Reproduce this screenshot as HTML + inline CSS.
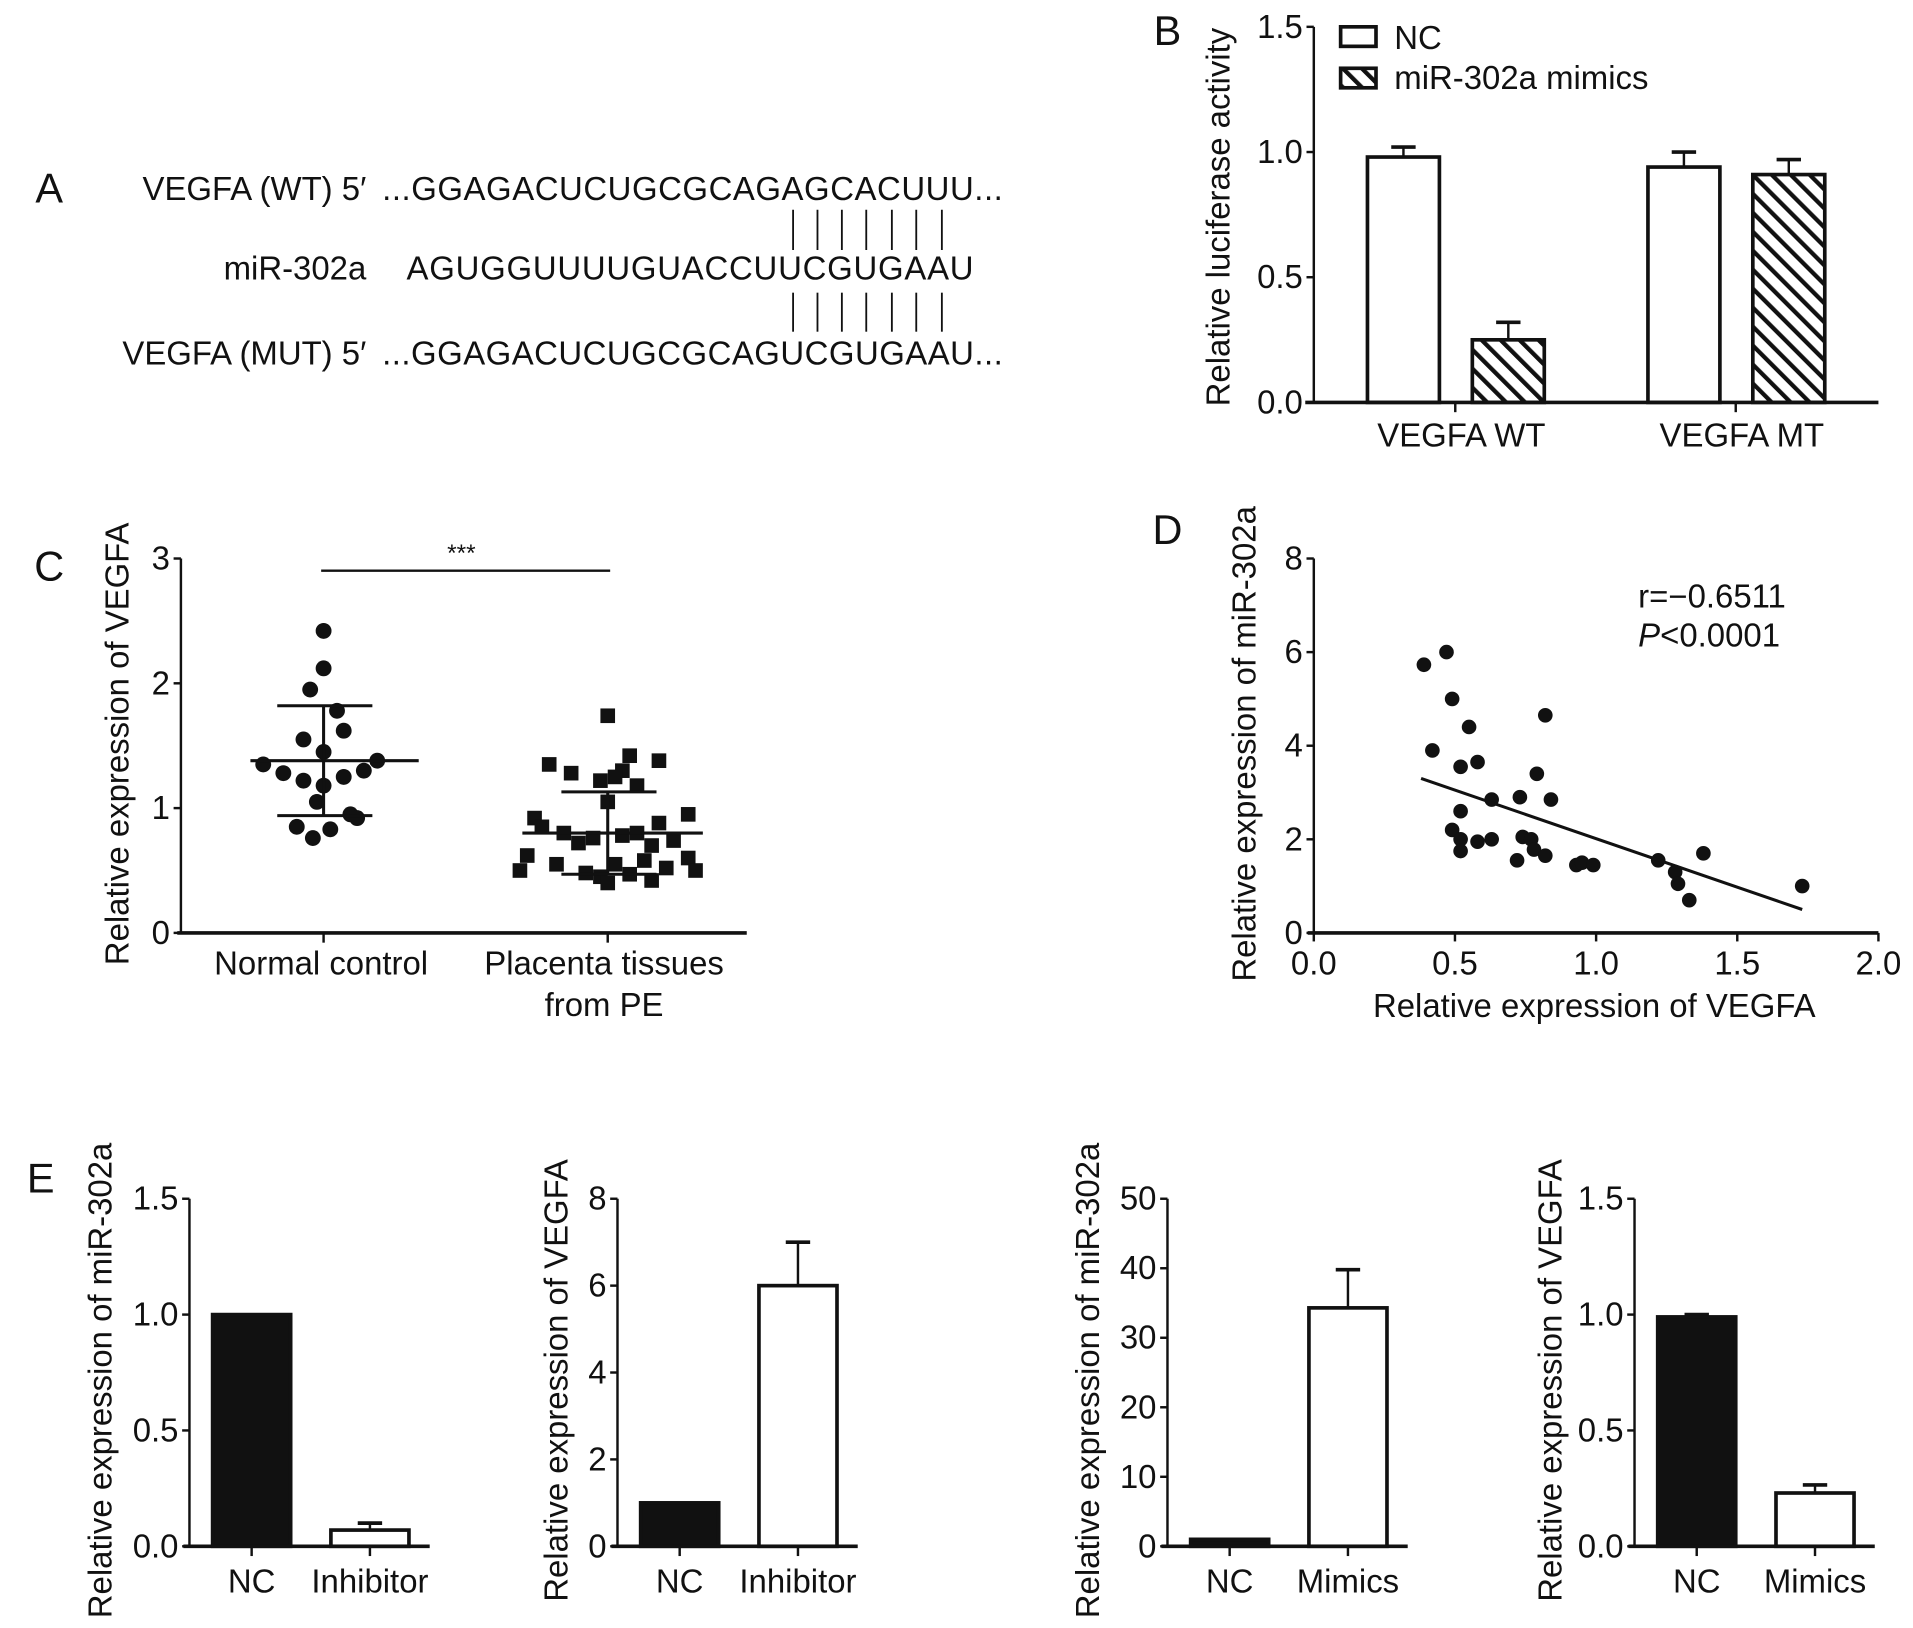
<!DOCTYPE html>
<html><head><meta charset="utf-8"><style>
html,body{margin:0;padding:0;background:#fff}
svg{display:block}
text{font-family:"Liberation Sans",sans-serif;fill:#111}
</style></head><body>
<svg id="fig" width="1913" height="1628" viewBox="0 0 1568 1335" xmlns="http://www.w3.org/2000/svg">
<defs>
<pattern id="hatch" patternUnits="userSpaceOnUse" width="11" height="11" patternTransform="rotate(-45)">
<rect width="11" height="11" fill="#fff"/><rect width="3.5" height="11" fill="#111"/></pattern>
</defs>
<g font-size="27">
<text x="40" y="166" font-size="34" text-anchor="middle">A</text>
<text x="300" y="164" text-anchor="end">VEGFA (WT) 5′</text>
<text x="313" y="164" textLength="509">...GGAGACUCUGCGCAGAGCACUUU...</text>
<text x="300" y="229" text-anchor="end">miR-302a</text>
<text x="333" y="229" textLength="465">AGUGGUUUUGUACCUUCGUGAAU</text>
<text x="300" y="299" text-anchor="end">VEGFA (MUT) 5′</text>
<text x="313" y="299" textLength="509">...GGAGACUCUGCGCAGUCGUGAAU...</text>
<g id="pairs" stroke="#111" stroke-width="1.5"></g>
</g>
<g id="pb"></g>
<g id="pc"></g>
<g id="pd"></g>
<g id="pe"></g>
</svg>
<script>
// Panel B data
const bCategories = ["VEGFA WT", "VEGFA MT"];
const bNC = [0.98, 0.94];
const bNCErr = [0.04, 0.06];
const bMimics = [0.25, 0.91];
const bMimicsErr = [0.07, 0.06];
const bTicks = ["0.0", "0.5", "1.0", "1.5"];
// Panel C data
const cNormal = [2.42, 2.12, 1.95, 1.78, 1.62, 1.55, 1.45, 1.38, 1.35, 1.30, 1.28, 1.25, 1.22, 1.18, 1.05, 0.95, 0.92, 0.85, 0.83, 0.76];
const cNormalJitter = [0, 0, -0.1, 0.1, 0.15, -0.15, 0, 0.4, -0.45, 0.3, -0.3, 0.15, -0.15, 0, -0.05, 0.2, 0.25, -0.2, 0.05, -0.08];
const cPE = [1.74, 1.42, 1.38, 1.35, 1.30, 1.28, 1.25, 1.22, 1.18, 1.05, 0.95, 0.92, 0.88, 0.85, 0.80, 0.80, 0.78, 0.76, 0.74, 0.72, 0.70, 0.62, 0.60, 0.58, 0.55, 0.55, 0.52, 0.50, 0.50, 0.48, 0.47, 0.45, 0.42, 0.40];
const cPEJitter = [0, 0.15, 0.35, -0.4, 0.1, -0.25, 0.05, -0.05, 0.2, 0, 0.55, -0.5, 0.35, -0.45, 0.2, -0.3, 0.1, -0.1, 0.45, -0.2, 0.3, -0.55, 0.55, 0.25, -0.35, 0.05, 0.4, -0.6, 0.6, -0.15, 0.15, -0.05, 0.3, 0];
const cMeans = [1.38, 0.80];
const cSD = [0.44, 0.33];
const cCategories = ["Normal control", "Placenta tissues"];
// Panel D data
const dX = [0.39, 0.47, 0.49, 0.42, 0.55, 0.52, 0.58, 0.82, 0.79, 0.63, 0.73, 0.84, 0.52, 0.49, 0.52, 0.52, 0.58, 0.63, 0.74, 0.77, 0.78, 0.82, 0.72, 0.93, 0.95, 0.99, 1.22, 1.28, 1.29, 1.38, 1.33, 1.73];
const dY = [5.73, 6.0, 5.0, 3.9, 4.4, 3.55, 3.65, 4.65, 3.4, 2.85, 2.9, 2.85, 2.6, 2.2, 2.0, 1.75, 1.95, 2.0, 2.05, 2.0, 1.78, 1.65, 1.55, 1.45, 1.5, 1.45, 1.55, 1.3, 1.05, 1.7, 0.7, 1.0];
const dFitX = [0.38, 1.73];
const dFitY = [3.3, 0.5];
const dXTicks = ["0.0", "0.5", "1.0", "1.5", "2.0"];
const dYTicks = ["0", "2", "4", "6", "8"];
// Panel E data
const eCats1 = ["NC", "Inhibitor"], eVals1 = [1.0, 0.07], eErr1 = [0, 0.03];
const eCats2 = ["NC", "Inhibitor"], eVals2 = [1.0, 6.0], eErr2 = [0, 1.0];
const eCats3 = ["NC", "Mimics"], eVals3 = [1.0, 34.3], eErr3 = [0, 5.5];
const eCats4 = ["NC", "Mimics"], eVals4 = [0.99, 0.23], eErr4 = [0.01, 0.035];

const FS = 27;
const NS = "http://www.w3.org/2000/svg";
function mk(parent, tag, attrs, txt) {
  const e = document.createElementNS(NS, tag);
  for (const k in attrs) e.setAttribute(k, attrs[k]);
  if (txt !== undefined) e.textContent = txt;
  parent.appendChild(e);
  return e;
}
function lin(d0, d1, r0, r1) { return v => r0 + (v - d0) * (r1 - r0) / (d1 - d0); }

const pairs = document.getElementById('pairs');
[650, 670, 690, 710, 731, 751, 772].forEach(x => {
  let l = mk(pairs, 'line', {x1: x, x2: x, y1: 172, y2: 205});
  
  
  l = mk(pairs, 'line', {x1: x, x2: x, y1: 240, y2: 272});
  
  
});

function yAxis(g, x, y0, y1, ticks, scale, vals) {
  let a = mk(g, 'line', {x1: x, x2: x, y1: y0 + 1, y2: y1, stroke: '#111', 'stroke-width': 2});
  
  
  ticks.forEach((t, i) => {
    const y = scale(vals[i]);
    mk(g, 'line', {x1: x - 6, x2: x, y1: y, y2: y, stroke: '#111', 'stroke-width': 2});
    const tx = mk(g, 'text', {x: x - 9, y: y + 9, 'text-anchor': 'end', 'font-size': FS}, t);
    
    
  });
}
function yTitle(g, x, cy, txt) {
  const t = mk(g, 'text', {x: 0, y: 0, 'text-anchor': 'middle', 'font-size': FS, transform: `translate(${x},${cy}) rotate(-90)`}, txt);
  
  
}
function bar(g, x0, x1, y0, y, fill, err, name) {
  if (err) {
    mk(g, 'line', {x1: (x0 + x1) / 2, x2: (x0 + x1) / 2, y1: y, y2: err, stroke: '#111', 'stroke-width': 2});
    mk(g, 'line', {x1: (x0 + x1) / 2 - 10, x2: (x0 + x1) / 2 + 10, y1: err, y2: err, stroke: '#111', 'stroke-width': 3});
  }
  const r = mk(g, 'rect', {x: x0, y: y, width: x1 - x0, height: y0 - y, fill: fill, stroke: '#111', 'stroke-width': 3});
  
  
}

// Panel B
(function () {
  const g = document.getElementById('pb');
  const y = lin(0, 1.5, 330, 22);
  mk(g, 'text', {x: 957, y: 37, 'font-size': 34, 'text-anchor': 'middle'}, 'B');
  yAxis(g, 1077, 330, 22, bTicks, y, [0, 0.5, 1.0, 1.5]);
  yTitle(g, 1008, 178, 'Relative luciferase activity');
  const centers = [1193, 1423];
  bCategories.forEach((c, i) => {
    const cx = centers[i];
    bar(g, cx - 72, cx - 13, 330, y(bNC[i]), '#fff', y(bNC[i] + bNCErr[i]), 'bar-nc-' + i);
    bar(g, cx + 14, cx + 73, 330, y(bMimics[i]), 'url(#hatch)', y(bMimics[i] + bMimicsErr[i]), 'bar-mimics-' + i);
    mk(g, 'line', {x1: cx, x2: cx, y1: 330, y2: 338, stroke: '#111', 'stroke-width': 2});
    const t = mk(g, 'text', {x: cx + 5, y: 366, 'text-anchor': 'middle', 'font-size': FS}, c);
    
    
  });
  mk(g, 'line', {x1: 1070, x2: 1540, y1: 330, y2: 330, stroke: '#111', 'stroke-width': 3});
  let r = mk(g, 'rect', {x: 1099, y: 22, width: 29, height: 16, fill: '#fff', stroke: '#111', 'stroke-width': 3});
  
  
  let t = mk(g, 'text', {x: 1143, y: 40, 'font-size': FS}, 'NC');
  
  
  r = mk(g, 'rect', {x: 1099, y: 56, width: 29, height: 16, fill: 'url(#hatch)', stroke: '#111', 'stroke-width': 3});
  
  
  t = mk(g, 'text', {x: 1143, y: 73, 'font-size': FS}, 'miR-302a mimics');
  
  
})();

// Panel C
(function () {
  const g = document.getElementById('pc');
  const y = lin(0, 3, 765, 458);
  mk(g, 'text', {x: 40, y: 476, 'font-size': 34, 'text-anchor': 'middle'}, 'C');
  yAxis(g, 148, 765, 458, ["0", "1", "2", "3"], y, [0, 1, 2, 3]);
  yTitle(g, 105, 610, 'Relative expression of VEGFA');
  mk(g, 'line', {x1: 145, x2: 612, y1: 765, y2: 765, stroke: '#111', 'stroke-width': 3});
  const cx = [265, 498];
  cx.forEach(x => mk(g, 'line', {x1: x, x2: x, y1: 765, y2: 773, stroke: '#111', 'stroke-width': 2}));
  let t = mk(g, 'text', {x: 263, y: 799, 'text-anchor': 'middle', 'font-size': FS}, cCategories[0]);
  
  
  t = mk(g, 'text', {x: 495, y: 799, 'text-anchor': 'middle', 'font-size': FS}, cCategories[1]);
  
  
  mk(g, 'text', {x: 495, y: 833, 'text-anchor': 'middle', 'font-size': FS}, 'from PE');
  mk(g, 'line', {x1: 263, x2: 500, y1: 468, y2: 468, stroke: '#111', 'stroke-width': 2});
  t = mk(g, 'text', {x: 378, y: 460, 'text-anchor': 'middle', 'font-size': 20}, '***');
  
  
  cNormal.forEach((v, i) => {
    const c = mk(g, 'circle', {cx: cx[0] + cNormalJitter[i] * 110, cy: y(v), r: 6.5, fill: '#111'});
    
    
  });
  cPE.forEach((v, i) => {
    const r = mk(g, 'rect', {x: cx[1] + cPEJitter[i] * 120 - 6, y: y(v) - 6, width: 12, height: 12, fill: '#111'});
    
    
  });
  [0, 1].forEach(i => {
    const x = cx[i];
    const m = mk(g, 'line', {x1: x - 60 - 10 * i, x2: x + 78, y1: y(cMeans[i]), y2: y(cMeans[i]), stroke: '#111', 'stroke-width': 2.5});
    
    
    mk(g, 'line', {x1: x, x2: x, y1: y(cMeans[i] - cSD[i]), y2: y(cMeans[i] + cSD[i]), stroke: '#111', 'stroke-width': 2.5});
    [cMeans[i] - cSD[i], cMeans[i] + cSD[i]].forEach(v => mk(g, 'line', {x1: x - 38, x2: x + 40, y1: y(v), y2: y(v), stroke: '#111', 'stroke-width': 2.5}));
  });
})();

// Panel D
(function () {
  const g = document.getElementById('pd');
  const x = lin(0, 2, 1077, 1540), y = lin(0, 8, 765, 458);
  mk(g, 'text', {x: 957, y: 446, 'font-size': 34, 'text-anchor': 'middle'}, 'D');
  yAxis(g, 1077, 765, 458, dYTicks, y, [0, 2, 4, 6, 8]);
  yTitle(g, 1029, 610, 'Relative expression of miR-302a');
  mk(g, 'line', {x1: 1072, x2: 1540, y1: 765, y2: 765, stroke: '#111', 'stroke-width': 3});
  dXTicks.forEach((tk, i) => {
    const xv = x(i * 0.5);
    mk(g, 'line', {x1: xv, x2: xv, y1: 765, y2: 772, stroke: '#111', 'stroke-width': 2});
    const t = mk(g, 'text', {x: xv, y: 799, 'text-anchor': 'middle', 'font-size': FS}, tk);
    
    
  });
  let t = mk(g, 'text', {x: 1307, y: 834, 'text-anchor': 'middle', 'font-size': FS}, 'Relative expression of VEGFA');
  
  
  dX.forEach((v, i) => {
    const c = mk(g, 'circle', {cx: x(v), cy: y(dY[i]), r: 6, fill: '#111'});
    
    
  });
  const l = mk(g, 'line', {x1: x(dFitX[0]), y1: y(dFitY[0]), x2: x(dFitX[1]), y2: y(dFitY[1]), stroke: '#111', 'stroke-width': 2.5});
  
  
  t = mk(g, 'text', {x: 1343, y: 498, 'font-size': FS}, 'r=−0.6511');
  
  
  t = mk(g, 'text', {x: 1343, y: 530, 'font-size': FS});
  
  
  mk(t, 'tspan', {'font-style': 'italic'}, 'P');
  mk(t, 'tspan', {}, '<0.0001');
})();

// Panel E
(function () {
  const g = document.getElementById('pe');
  mk(g, 'text', {x: 33, y: 978, 'font-size': 34, 'text-anchor': 'middle'}, 'E');
  const subs = [
    {ax: 155, max: 1.5, ticks: ["0.0", "0.5", "1.0", "1.5"], tv: [0, 0.5, 1, 1.5], cats: eCats1, vals: eVals1, err: eErr1, title: 'Relative expression of miR-302a', tx: 91, end: 350},
    {ax: 506, max: 8, ticks: ["0", "2", "4", "6", "8"], tv: [0, 2, 4, 6, 8], cats: eCats2, vals: eVals2, err: eErr2, title: 'Relative expression of VEGFA', tx: 465, end: 705},
    {ax: 957, max: 50, ticks: ["0", "10", "20", "30", "40", "50"], tv: [0, 10, 20, 30, 40, 50], cats: eCats3, vals: eVals3, err: eErr3, title: 'Relative expression of miR-302a', tx: 901, end: 1158},
    {ax: 1340, max: 1.5, ticks: ["0.0", "0.5", "1.0", "1.5"], tv: [0, 0.5, 1, 1.5], cats: eCats4, vals: eVals4, err: eErr4, title: 'Relative expression of VEGFA', tx: 1280, end: 1540}
  ];
  subs.forEach((s, k) => {
    const sg = mk(g, 'g', {});
    
    
    const y = lin(0, s.max, 1268, 983);
    yAxis(sg, s.ax, 1268, 983, s.ticks, y, s.tv);
    yTitle(sg, s.tx, 1132, s.title);
    const centers = [s.ax + 51, s.ax + 148];
    s.cats.forEach((c, i) => {
      const cx = centers[i];
      bar(sg, cx - 32, cx + 32, 1268, y(s.vals[i]), i === 0 ? '#111' : '#fff', s.err[i] ? y(s.vals[i] + s.err[i]) : 0, 'bar-' + c.toLowerCase());
      mk(sg, 'line', {x1: cx, x2: cx, y1: 1268, y2: 1276, stroke: '#111', 'stroke-width': 2});
      const t = mk(sg, 'text', {x: cx, y: 1306, 'text-anchor': 'middle', 'font-size': FS}, c);
      
      
    });
    mk(sg, 'line', {x1: s.ax - 5, x2: s.ax + 197, y1: 1268, y2: 1268, stroke: '#111', 'stroke-width': 3});
  });
})();
</script>
</body></html>
